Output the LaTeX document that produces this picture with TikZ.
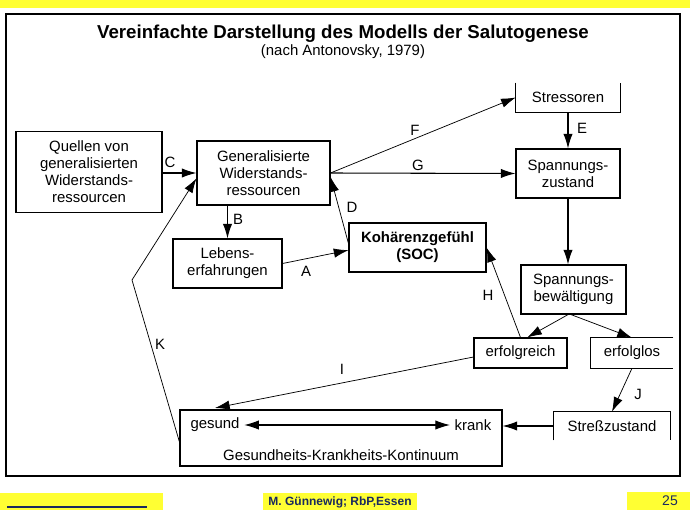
\documentclass[tikz,border=0pt]{standalone}
\usepackage{fontspec}
\setsansfont{Liberation Sans}
\usepackage{tikz}
\usetikzlibrary{arrows.meta, positioning}
\definecolor{fyellow}{HTML}{FFFF33}
\definecolor{fnavy}{HTML}{1A2A5E}
\tikzset{
  >={Latex[length=11pt,width=7pt]},
  font=\fontsize{11.2}{12.8}\selectfont\sffamily,
  box/.style={
    draw=black, line width=0.8pt, align=center, inner sep=0pt
  },
  openbox/.style={align=center, inner sep=0pt},
  arr/.style={->, line width=0.8pt},
  thinarr/.style={->, line width=0.55pt},
  lab/.style={font=\fontsize{11.2}{12.8}\selectfont\sffamily, inner sep=0pt},
  foot/.style={font=\fontsize{9}{10}\selectfont\sffamily\bfseries, text=fnavy}
}
\begin{document}
\begin{tikzpicture}[x=0.75pt, y=-0.75pt]
  \useasboundingbox (0,0) rectangle (690,510);
  % slide frame and footer
  \fill[fyellow] (0,0) rectangle (690,8);
  \draw[line width=0.8pt] (6,14) rectangle (680,476);
  \fill[fyellow] (0,493) rectangle (163,510);
  \draw[fnavy, line width=0.8pt] (7,507) -- (147,507);
  \fill[fyellow] (263,493) rectangle (417,510);
  \node[foot] (autor) at (340,502) {M. Günnewig; RbP,Essen};
  \fill[fyellow] (627,492) rectangle (690,510);
  \node[font=\fontsize{10.5}{12}\selectfont\sffamily, text=fnavy] (seite) at (670,501) {25};
  % title
  \node[font=\fontsize{14}{16}\selectfont\sffamily\bfseries] (titel) at (343,34)
    {Vereinfachte Darstellung des Modells der Salutogenese};
  \node (quelle) at (343,52) {(nach Antonovsky, 1979)};
  % boxes
  \node[box, minimum width=109.5pt, minimum height=60.75pt] (quellen) at (89,172)
    {Quellen von\\generalisierten\\Widerstands-\\ressourcen};
  \node[box, minimum width=99.75pt, minimum height=48pt] (genres) at (263.5,173)
    {Generalisierte\\Widerstands-\\ressourcen};
  \node[box, minimum width=81.75pt, minimum height=36.75pt] (leben) at (227.5,263.5)
    {Lebens-\\erfahrungen};
  \node[box, minimum width=102.75pt, minimum height=36.75pt] (soc) at (417.5,247.5)
    {\bfseries Kohärenzgefühl\\\bfseries (SOC)};
  \node[openbox, minimum width=78pt, minimum height=21.75pt] (stress) at (568,97.5)
    {Stressoren};
  \draw[line width=0.8pt] (stress.north west) -- (stress.south west)
    -- (stress.south east) -- (stress.north east);
  \node[box, minimum width=78pt, minimum height=36.75pt] (spannz) at (568,173.5)
    {Spannungs-\\zustand};
  \node[box, minimum width=78.75pt, minimum height=36.75pt] (bewaelt) at (573.5,289.5)
    {Spannungs-\\bewältigung};
  \node[box, minimum width=69.75pt, minimum height=22.5pt] (erfolgr) at (520.5,353)
    {erfolgreich};
  \node[openbox, minimum width=61.5pt, minimum height=22.5pt] (erfolgl) at (632,353)
    {erfolglos};
  \draw[line width=0.8pt] (erfolgl.north east) -- (erfolgl.north west)
    -- (erfolgl.south west) -- (erfolgl.south east);
  \node[openbox, minimum width=87.75pt, minimum height=21pt] (strzust) at (612,426)
    {Streßzustand};
  \draw[line width=0.8pt] (strzust.south west) -- (strzust.north west)
    -- (strzust.north east) -- (strzust.south east);
  \node[box, minimum width=241.5pt, minimum height=42pt] (kont) at (341,438) {};
  \node (gesund) at (215,425) {gesund};
  \node (krank) at (473,425) {krank};
  \node (kontlab) at (341,455) {Gesundheits-Krankheits-Kontinuum};
  % connectors
  \draw[arr] (quellen.east |- genres.west) -- (genres.west);
  \draw[arr] (genres.south -| leben.north) -- (leben.north);
  \draw[thinarr] (leben.east) -- ([yshift=-2pt]soc.west);
  \draw[thinarr] ([yshift=3pt]soc.west) -- ([yshift=-3pt]genres.east);
  \draw[thinarr] (genres.east) -- (stress.west);
  \draw[arr] (genres.east) -- (spannz.west);
  \draw[arr] (stress.south) -- (spannz.north);
  \draw[arr] (spannz.south) -- (spannz.south |- bewaelt.north);
  \draw[thinarr] ([xshift=-4pt]bewaelt.south) -- ([xshift=5pt]erfolgr.north);
  \draw[thinarr] ([xshift=-2pt]bewaelt.south) -- (erfolgl.north);
  \draw[thinarr] (erfolgr.north) -- (soc.east);
  \draw[thinarr] ([yshift=-3pt]erfolgr.west) -- ([yshift=4pt]gesund.north);
  \draw[thinarr] (erfolgl.south) -- (strzust.north);
  \draw[arr] (strzust.west) -- (strzust.west -| kont.east);
  \draw[arr, <->] (gesund.east) -- (krank.west);
  \coordinate (kknick) at (132,280);
  \draw[thinarr] ([yshift=-3pt]kont.west) -- (kknick) -- ([yshift=-4pt]genres.west);
  % labels
  \node[lab] (labC) at (170,162) {C};
  \node[lab] (labB) at (238,219) {B};
  \node[lab] (labA) at (306,271) {A};
  \node[lab] (labD) at (352,207) {D};
  \node[lab] (labF) at (415,130) {F};
  \node[lab] (labG) at (418,165) {G};
  \node[lab] (labE) at (582,128) {E};
  \node[lab] (labH) at (488,295) {H};
  \node[lab] (labI) at (342,369) {I};
  \node[lab] (labJ) at (638,394) {J};
  \node[lab] (labK) at (160,344) {K};
\end{tikzpicture}
\end{document}
